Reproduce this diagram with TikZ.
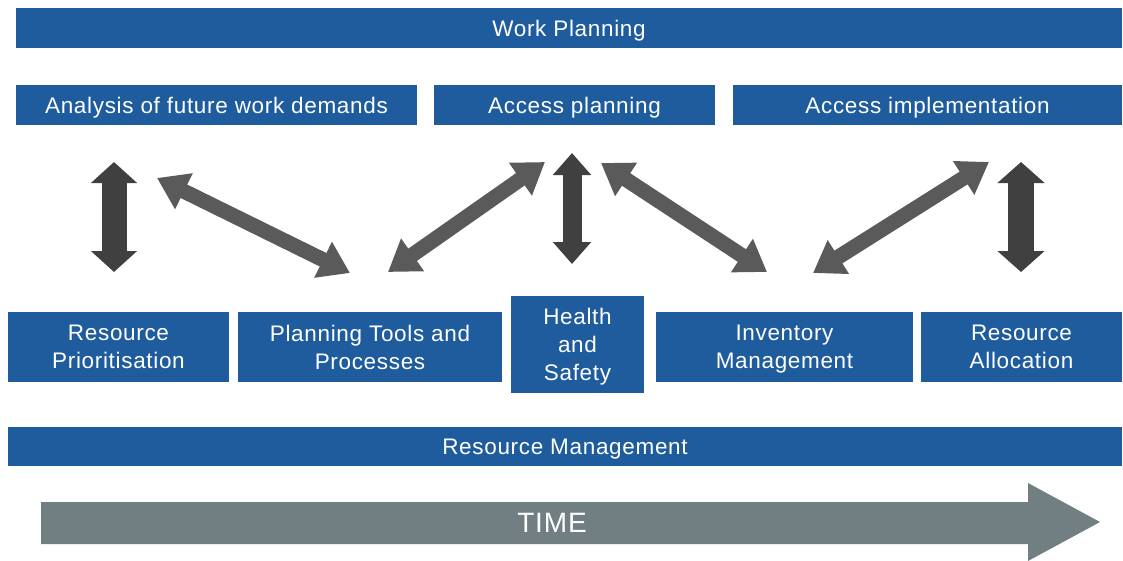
\documentclass[tikz,border=0pt]{standalone}
\usepackage{fontspec}
\setmainfont[LetterSpace=3]{Liberation Sans}
\usetikzlibrary{arrows.meta}
\definecolor{boxblue}{RGB}{31,92,158}
\definecolor{darkarrow}{RGB}{64,64,64}
\definecolor{midarrow}{RGB}{90,90,90}
\definecolor{timegray}{RGB}{113,127,131}
\tikzset{
  bluebox/.style={fill=boxblue, text=white, inner sep=0pt, align=center,
    font=\fontsize{22.5}{28}\selectfont},
  oneline/.style={text height=16pt, text depth=0pt},
  vdbl/.style={draw=darkarrow, line width=25pt,
    {Triangle[width=45pt,length=21pt]}-{Triangle[width=45pt,length=21pt]}},
  ddbl/.style={draw=midarrow, line width=15pt,
    {Triangle[width=38pt,length=30pt]}-{Triangle[width=38pt,length=30pt]}}
}
\begin{document}
\begin{tikzpicture}[x=1pt,y=-1pt]
\useasboundingbox (0,0) rectangle (1123,560);
% top row
\node[bluebox, oneline, minimum width=1106pt, minimum height=40pt] (wp) at (569,28) {Work Planning};
\node[bluebox, oneline, minimum width=401pt, minimum height=40pt] (afwd) at (216.5,105) {Analysis of future work demands};
\node[bluebox, oneline, minimum width=281pt, minimum height=40pt] (ap) at (574.5,105) {Access planning};
\node[bluebox, oneline, minimum width=389pt, minimum height=40pt] (ai) at (927.5,105) {Access implementation};
% bottom row
\node[bluebox, minimum width=221pt, minimum height=70pt] (rp) at (118.5,347) {Resource\\Prioritisation};
\node[bluebox, minimum width=264pt, minimum height=70pt] (ptp) at (370,347) {Planning Tools and\\Processes};
\node[bluebox, minimum width=133pt, minimum height=97pt, text depth=0pt] (hs) at (577.5,344.5) {Health\\and\\Safety};
\node[bluebox, minimum width=257pt, minimum height=70pt, text depth=0pt] (im) at (784.5,347) {Inventory\\Management};
\node[bluebox, minimum width=201pt, minimum height=70pt] (ra) at (1021.5,347) {Resource\\Allocation};
\node[bluebox, oneline, minimum width=1114pt, minimum height=39pt] (rm) at (565,446.5) {Resource Management};
% arrow end points
\coordinate (a1t) at (114,162); \coordinate (a1b) at (114,272);
\coordinate (a2t) at (157,178); \coordinate (a2b) at (350,273);
\coordinate (a3b) at (388,272); \coordinate (a3t) at (545,162);
\coordinate (a4t) at (572,153); \coordinate (a4b) at (572,264);
\coordinate (a5t) at (601,163); \coordinate (a5b) at (767,272);
\coordinate (a6b) at (813,273); \coordinate (a6t) at (989,162);
\coordinate (a7t) at (1021,162); \coordinate (a7b) at (1021,272);
\draw[vdbl] (a1t) -- (a1b);
\draw[ddbl] (a2t) -- (a2b);
\draw[ddbl] (a3b) -- (a3t);
\draw[vdbl, line width=19pt, {Triangle[width=37pt,length=22pt]}-{Triangle[width=37pt,length=22pt]}] (a4t) -- (a4b);
\draw[ddbl] (a5t) -- (a5b);
\draw[ddbl] (a6b) -- (a6t);
\draw[vdbl, line width=26pt, {Triangle[width=46pt,length=21pt]}-{Triangle[width=46pt,length=21pt]}] (a7t) -- (a7b);
% time arrow
\begin{scope}
\clip (0,0) rectangle (1123,560);
\fill[timegray] (41,502) -- (1028,502) -- (1028,483) -- (1100,522) -- (1028,561) -- (1028,544) -- (41,544) -- cycle;
\end{scope}
\node[text=white, font=\fontsize{28}{32}\selectfont, inner sep=0pt] (time) at (552,523) {TIME};
\end{tikzpicture}
\end{document}
